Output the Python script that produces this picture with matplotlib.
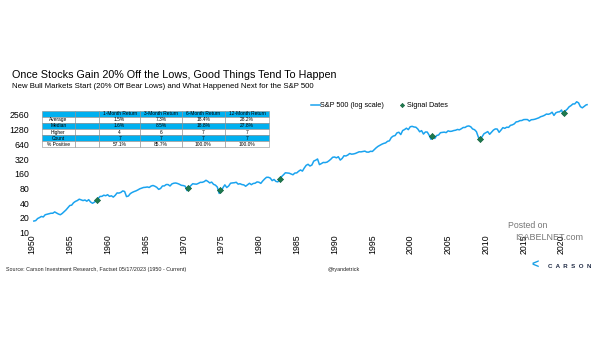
import matplotlib.pyplot as plt
import matplotlib.dates as mdates
import matplotlib.ticker as mticker
import numpy as np
import pandas as pd

plt.rcParams['font.family'] = ['Liberation Sans', 'DejaVu Sans']

# S&P 500 quarter-end closes, 1950 Q1 .. 2023 Q1, then the 05/17/2023 close
spx_quarterly = [
    17.3, 17.7, 19.5, 20.4,   21.5, 21.0, 23.3, 23.8,   24.4, 25.0, 25.0, 26.6,
    25.3, 24.1, 23.3, 24.8,   26.9, 29.2, 32.3, 36.0,   36.6, 41.0, 43.7, 45.5,
    48.5, 47.0, 45.4, 46.7,   44.1, 47.4, 42.4, 40.0,   42.1, 45.2, 50.1, 55.2,
    55.4, 58.5, 57.0, 59.9,   55.3, 56.9, 53.5, 58.1,   65.1, 64.6, 66.7, 71.6,
    69.6, 54.8, 56.3, 63.1,   66.6, 69.4, 71.7, 75.0,   79.0, 81.7, 84.2, 84.8,
    86.2, 84.1, 90.0, 92.4,   89.2, 84.7, 77.0, 80.3,   90.2, 90.6, 96.7, 96.5,
    90.2, 99.6, 102.9, 103.9, 101.5, 97.7, 93.1, 92.1,  89.6, 72.7, 84.2, 92.2,
    100.3, 99.0, 98.3, 102.1, 107.2, 107.1, 110.6, 118.1, 112.0, 104.3, 108.4, 97.6,
    94.0, 86.0, 63.5, 68.6,   83.4, 95.2, 83.9, 90.2,   102.8, 104.3, 105.2, 107.5,
    98.4, 100.5, 96.5, 95.1,  89.2, 95.5, 102.5, 96.1,  101.6, 102.9, 109.3, 107.9,
    102.1, 114.2, 125.5, 135.8, 136.0, 131.2, 116.2, 122.6, 112.0, 109.6, 120.4, 140.6,
    153.0, 168.1, 166.1, 164.9, 159.2, 153.2, 166.1, 167.2, 180.7, 191.9, 182.1, 211.3,
    238.9, 250.8, 231.3, 242.2, 291.7, 304.0, 321.8, 247.1, 258.9, 273.5, 271.9, 277.7,
    294.9, 318.0, 349.2, 353.4, 339.9, 358.0, 306.1, 330.2, 375.2, 371.2, 387.9, 417.1,
    403.7, 408.1, 417.8, 435.7, 451.7, 450.5, 458.9, 466.5, 445.8, 444.3, 462.7, 459.3,
    500.7, 544.8, 584.4, 615.9, 645.5, 670.6, 687.3, 740.7, 757.1, 885.1, 947.3, 970.4,
    1101.8, 1133.8, 1017.0, 1229.2, 1286.4, 1372.7, 1282.7, 1469.3,
    1498.6, 1454.6, 1436.5, 1320.3, 1160.3, 1224.4, 1040.9, 1148.1,
    1147.4, 989.8, 815.3, 879.8,  848.2, 974.5, 996.0, 1111.9,
    1126.2, 1140.8, 1114.6, 1211.9, 1180.6, 1191.3, 1228.8, 1248.3,
    1294.8, 1270.2, 1335.9, 1418.3, 1420.9, 1503.4, 1526.8, 1468.4,
    1322.7, 1280.0, 1166.4, 903.3,  797.9, 919.3, 1057.1, 1115.1,
    1169.4, 1030.7, 1141.2, 1257.6, 1325.8, 1320.6, 1131.4, 1257.6,
    1408.5, 1362.2, 1440.7, 1426.2, 1569.2, 1606.3, 1681.6, 1848.4,
    1872.3, 1960.2, 1972.3, 2058.9, 2067.9, 2063.1, 1920.0, 2043.9,
    2059.7, 2098.9, 2168.3, 2238.8, 2362.7, 2423.4, 2519.4, 2673.6,
    2640.9, 2718.4, 2914.0, 2506.9, 2834.4, 2941.8, 2976.7, 3230.8,
    2584.6, 3100.3, 3363.0, 3756.1, 3972.9, 4297.5, 4307.5, 4766.2,
    4530.4, 3785.4, 3585.6, 3839.5, 4109.3,
    4158.8,
]
spx_dates = list(pd.date_range('1950-03-31', '2023-03-31', freq='QE')) + [pd.Timestamp('2023-05-17')]

signal_dates = pd.to_datetime(['1958-07-15', '1970-09-01', '1974-11-07', '1982-10-06',
                               '2002-11-21', '2009-03-23', '2020-04-08'])
signal_values = [46.8, 83.2, 74.9, 123.0, 933.8, 822.9, 2750.0]

y_ticks = [10, 20, 40, 80, 160, 320, 640, 1280, 2560]

col_labels = ['1-Month Return', '3-Month Return', '6-Month Return', '12-Month Return']
avg_ret = ['1.5%', '7.3%', '18.4%', '28.2%']
med_ret = ['1.6%', '8.5%', '18.8%', '27.8%']
higher = ['4', '6', '7', '7']
count = ['7', '7', '7', '7']
pct_pos = ['57.1%', '85.7%', '100.0%', '100.0%']

BLUE = '#1AA3EF'
W, H = 605, 341


def box(x0, y0, x1, y1):
    return [x0 / W, 1 - y1 / H, (x1 - x0) / W, (y1 - y0) / H]


fig = plt.figure(figsize=(6.05, 3.41), dpi=100)

fig.text(12 / W, 1 - 75 / H, 'Once Stocks Gain 20% Off the Lows, Good Things Tend To Happen',
         fontsize=7.75, va='center', ha='left')
fig.text(12 / W, 1 - 86.5 / H, 'New Bull Markets Start (20% Off Bear Lows) and What Happened Next for the S&P 500',
         fontsize=5.55, va='center', ha='left')

ax = fig.add_axes(box(32, 100.25, 588, 232.7))
ax.plot(spx_dates, spx_quarterly, color=BLUE, lw=1.1, label='S&P 500 (log scale)')
ax.scatter(signal_dates, signal_values, marker='D', s=10, color='#1E7A4E',
           edgecolor='#0B5A36', linewidth=0.4, zorder=3, label='Signal Dates')
ax.set_yscale('log')
ax.set_ylim(10, 5120)
ax.set_yticks(y_ticks)
ax.yaxis.set_major_formatter(mticker.FixedFormatter([str(v) for v in y_ticks]))
ax.yaxis.set_minor_locator(mticker.NullLocator())
ax.set_xlim(pd.Timestamp('1950-01-01'), pd.Timestamp('2023-07-01'))
ax.xaxis.set_major_locator(mdates.YearLocator(5))
ax.xaxis.set_major_formatter(mdates.DateFormatter('%Y'))
ax.tick_params(axis='x', labelrotation=90, length=0, pad=1, labelsize=6.3)
ax.tick_params(axis='y', length=0, pad=2, labelsize=6.3)
for s in ax.spines.values():
    s.set_visible(False)

ax.legend(loc='center left', bbox_to_anchor=(306 / W, 1 - 105.7 / H), bbox_transform=fig.transFigure,
          ncol=2, frameon=False, fontsize=5.2, handlelength=1.2, handletextpad=0.1,
          columnspacing=1.8, markerscale=0.7, borderpad=0.2)

# summary table
tax = fig.add_axes(box(41.7, 110.7, 269, 147.3))
tax.axis('off')
cells = [['', ''] + col_labels,
         ['Average', ''] + avg_ret,
         ['Median', ''] + med_ret,
         ['Higher', ''] + higher,
         ['Count', ''] + count,
         ['% Positive', ''] + pct_pos]
widths = np.array([33.3, 24.3, 40.7, 41.7, 43.3, 44.0])
tbl = tax.table(cellText=cells, bbox=[0, 0, 1, 1], cellLoc='center',
                colWidths=list(widths / widths.sum()))
tbl.auto_set_font_size(False)
tbl.set_fontsize(3.5)
for (r, c), cell in tbl.get_celld().items():
    cell.set_edgecolor('#8C8C8C')
    cell.set_linewidth(0.4)
    cell.set_facecolor('#00B0F0' if r in (0, 2, 4) else 'white')
    cell.PAD = 0.02

fig.text(6.5 / W, 1 - 270 / H, 'Source: Carson Investment Research, Factset 05/17/2023 (1950 - Current)',
         fontsize=3.9, va='center', ha='left', color='#222222')
fig.text(344 / W, 1 - 269 / H, '@ryandetrick', fontsize=3.9, va='center', ha='center', color='#222222')
fig.text(548 / W, 1 - 266 / H, 'C  A  R  S  O  N', fontsize=4.4, va='center', ha='left',
         color='#1F2A44', fontweight='bold')
fig.text(531 / W, 1 - 266 / H, '<', fontsize=9, va='center', ha='left', color='#19A0E6', fontweight='bold')

fig.text(508 / W, 1 - 226 / H, 'Posted on', fontsize=6.3, va='center', ha='left', color='#777777')
fig.text(515 / W, 1 - 237.5 / H, 'ISABELNET.com', fontsize=6.5, va='center', ha='left', color='#777777')

fig.savefig('out.png', dpi=100)
